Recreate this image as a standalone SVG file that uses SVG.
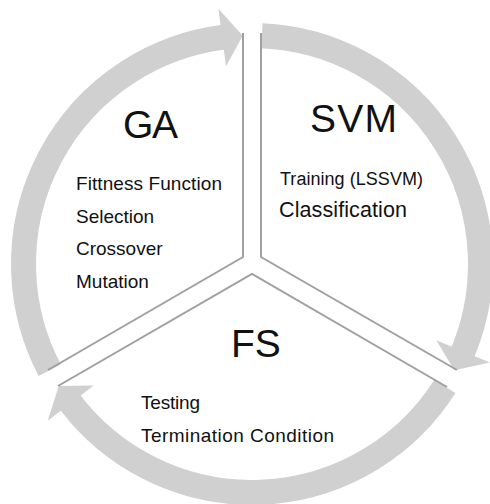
<svg xmlns="http://www.w3.org/2000/svg" width="490" height="504" viewBox="0 0 490 504">
<style>
.ring{fill:none;stroke:#d0d0d0;stroke-width:25;stroke-linecap:butt}
.head{fill:#d0d0d0}
.div{fill:none;stroke:#a0a0a0;stroke-width:2}
text{font-family:"Liberation Sans",Arial,sans-serif;fill:#111}
.big{font-size:39px}
.sm{font-size:19px}
</style>
<rect width="490" height="504" fill="#fff"/>
<g id="connectors">
<path class="ring" d="M49.7,370.2 A228.5,228.5 0 0 1 224.2,37.2"/>
<polygon class="head" points="218.4,8.7 242.8,35.7 226,66.2"/>
<path class="ring" d="M262,35.7 A228.5,228.5 0 0 1 462.3,353.3"/>
<polygon class="head" points="489.9,362.5 454.3,370.2 436.3,340.3"/>
<path class="ring" d="M444.9,386.4 A228.5,228.5 0 0 1 69.5,401.5"/>
<polygon class="head" points="47.7,420.8 58.8,386.1 93.7,385.5"/>
<path class="div" d="M243,33 V257 L48,370"/>
<path class="div" d="M261,33 V257 L457,370"/>
<path class="div" d="M58,386 L252,274 L447,387"/>
</g>
<g id="ga">
<text class="big" x="123" y="138" textLength="55">GA</text>
<text class="sm" x="76" y="190" textLength="146">Fittness Function</text>
<text class="sm" x="76" y="222.5">Selection</text>
<text class="sm" x="76" y="255">Crossover</text>
<text class="sm" x="76" y="287.5">Mutation</text>
</g>
<g id="svm">
<text class="big" x="310" y="132" textLength="87">SVM</text>
<text x="280" y="185" font-size="18" textLength="143">Training (LSSVM)</text>
<text x="279" y="217" font-size="21.5" textLength="128">Classification</text>
</g>
<g id="fs">
<text class="big" x="231" y="357">FS</text>
<text class="sm" x="141" y="409" textLength="59">Testing</text>
<text class="sm" x="141" y="441.5" textLength="193">Termination Condition</text>
</g>
</svg>
